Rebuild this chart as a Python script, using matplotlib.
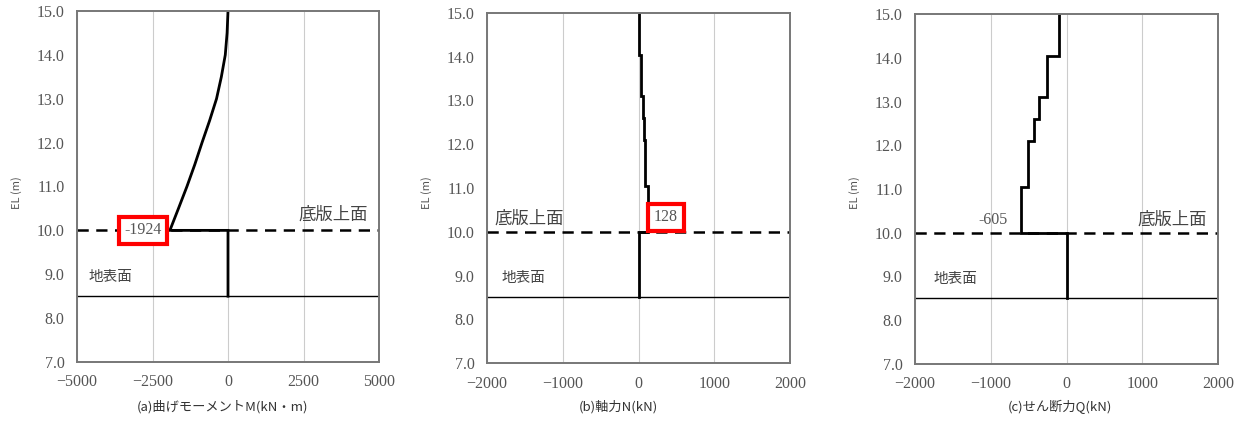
import matplotlib
matplotlib.use("Agg")
import matplotlib.pyplot as plt

plt.rcParams['font.family'] = ['Liberation Serif', 'Noto Sans CJK JP']

# (a) 曲げモーメント  M (kN・m) vs EL (m)
m_el = [8.5, 10.0, 10.0, 10.5, 11.0, 11.5, 12.0, 12.5, 13.0, 13.5, 14.0, 14.5, 15.0]
m_val = [0, 0, -1924, -1640, -1360, -1100, -860, -610, -380, -220, -90, -30, 0]

# (b) 軸力 N (kN): step profile
n_el = [8.5, 10.0, 10.0, 11.05, 11.05, 12.1, 12.1, 12.6, 12.6, 13.1, 13.1, 14.05, 14.05, 15.0]
n_val = [0, 0, 128, 128, 92, 92, 70, 70, 53, 53, 31, 31, 9, 9]

# (c) せん断力 Q (kN): step profile
q_el = [8.5, 10.0, 10.0, 11.05, 11.05, 12.1, 12.1, 12.6, 12.6, 13.1, 13.1, 14.05, 14.05, 15.0]
q_val = [0, 0, -605, -605, -505, -505, -426, -426, -360, -360, -255, -255, -101, -101]

panels = [
    dict(x=m_val, y=m_el, lim=5000, ticks=[-5000, -2500, 0, 2500, 5000],
         xlabel="(a)曲げモーメントM(kN・m)", xlab_x=223,
         peak="-1924", peak_xy=(-2815, 10.0), boxed=True,
         top_xy=(3477, 10.35), ground_xy=(-3907, 8.94), rect=[77, 11, 379, 362]),
    dict(x=n_val, y=n_el, lim=2000, ticks=[-2000, -1000, 0, 1000, 2000],
         xlabel="(b)軸力N(kN)", xlab_x=618,
         peak="128", peak_xy=(363, 10.33), boxed=True,
         top_xy=(-1446, 10.31), ground_xy=(-1525, 8.94), rect=[487, 13, 790, 363]),
    dict(x=q_val, y=q_el, lim=2000, ticks=[-2000, -1000, 0, 1000, 2000],
         xlabel="(c)せん断力Q(kN)", xlab_x=1060,
         peak="-605", peak_xy=(-970, 10.29), boxed=False,
         top_xy=(1393, 10.29), ground_xy=(-1472, 8.94), rect=[915, 14, 1218, 364]),
]

W, H = 1248, 421
fig = plt.figure(figsize=(W / 100, H / 100), dpi=100)
cjk = ['Noto Sans CJK JP', 'DejaVu Sans']

for p in panels:
    l, t, r, b = p['rect']
    ax = fig.add_axes([l / W, 1 - b / H, (r - l) / W, (b - t) / H])
    ax.set_xlim(-p['lim'], p['lim'])
    ax.set_ylim(7, 15)
    ax.set_xticks(p['ticks'])
    ax.set_yticks(range(7, 16))
    ax.set_yticklabels([f"{v:.1f}" for v in range(7, 16)])
    ax.tick_params(length=0, labelsize=11.5, labelcolor='#555555', pad=9)
    ax.grid(axis='x', color='#cccccc', lw=0.8)
    ax.set_axisbelow(True)
    for s in ax.spines.values():
        s.set_color('#777777')
        s.set_linewidth(1.4)

    ax.axhline(10.0, color='black', lw=1.8, ls=(0, (4.5, 3)))
    ax.axhline(8.5, color='black', lw=1.0)
    ax.plot(p['x'], p['y'], color='black', lw=2.0, solid_joinstyle='miter')

    if p['boxed']:
        ax.text(*p['peak_xy'], p['peak'], ha='center', va='center', fontsize=11.5,
                color='#555555', zorder=5,
                bbox=dict(boxstyle='square,pad=0.35', fc='white', ec='red', lw=3))
    else:
        ax.text(*p['peak_xy'], p['peak'], ha='center', va='center', fontsize=11.5,
                color='#555555')
    ax.text(*p['top_xy'], "底版上面", ha='center', va='center', fontsize=12.5,
            color='#444444', family=cjk)
    ax.text(*p['ground_xy'], "地表面", ha='center', va='center', fontsize=10.5,
            color='#444444', family=cjk)

    fig.text((l - 60) / W, 1 - 193 / H, "EL (m)", rotation=90, ha='center', va='center',
             fontsize=8, color='#555555', family=cjk)
    fig.text(p['xlab_x'] / W, 1 - 407 / H, p['xlabel'], ha='center', va='center',
             fontsize=9.5, color='#333333', family=cjk)

fig.savefig("out.png", dpi=100)
